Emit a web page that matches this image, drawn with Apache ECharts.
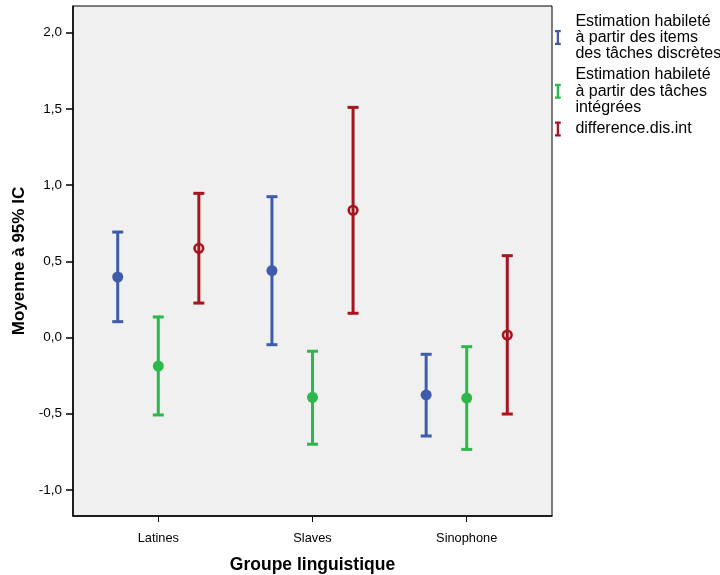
<!DOCTYPE html>
<html>
<head>
<meta charset="utf-8">
<script src="https://cdn.jsdelivr.net/npm/echarts@6/dist/echarts.min.js"></script>
<style>
  html, body { margin: 0; padding: 0; background: #fff; }
  #chart { width: 720px; height: 575px; }
</style>
</head>
<body>
<div id="chart"></div>
<script>
// Language groups on the x axis
const groups = ['Latines', 'Slaves', 'Sinophone'];

// Mean and 95% CI bounds per group
const discreteMean  = [0.397, 0.439, -0.377];
const discreteLow   = [0.104, -0.047, -0.646];
const discreteHigh  = [0.692, 0.924, -0.110];

const integratedMean = [-0.187, -0.392, -0.397];
const integratedLow  = [-0.508, -0.700, -0.734];
const integratedHigh = [0.135, -0.090, -0.060];

const diffMean = [0.585, 0.835, 0.016];
const diffLow  = [0.226, 0.159, -0.502];
const diffHigh = [0.946, 1.510, 0.537];

const yTicks = [-1, -0.5, 0, 0.5, 1, 1.5, 2];

const seriesDefs = [
  { name: 'Estimation habileté\nà partir des items\ndes tâches discrètes', color: '#3F5BAA', offset: -0.263, hollow: false,
    mean: discreteMean, low: discreteLow, high: discreteHigh },
  { name: 'Estimation habileté\nà partir des tâches\nintégrées', color: '#2DB84B', offset: 0, hollow: false,
    mean: integratedMean, low: integratedLow, high: integratedHigh },
  { name: 'difference.dis.int', color: '#A6141E', offset: 0.263, hollow: true,
    mean: diffMean, low: diffLow, high: diffHigh }
];

function makeRenderer(def) {
  return function (params, api) {
    const x = api.value(0) + def.offset;
    const pm = api.coord([x, api.value(1)]);
    const pl = api.coord([x, api.value(2)]);
    const ph = api.coord([x, api.value(3)]);
    const c = def.color;
    const capHalf = 5.5;
    const children = [
      { type: 'line', shape: { x1: pm[0], y1: ph[1], x2: pm[0], y2: pl[1] },
        style: { stroke: c, lineWidth: 3 } },
      { type: 'line', shape: { x1: pm[0] - capHalf, y1: ph[1], x2: pm[0] + capHalf, y2: ph[1] },
        style: { stroke: c, lineWidth: 3 } },
      { type: 'line', shape: { x1: pm[0] - capHalf, y1: pl[1], x2: pm[0] + capHalf, y2: pl[1] },
        style: { stroke: c, lineWidth: 3 } }
    ];
    if (def.hollow) {
      children.push({ type: 'circle', shape: { cx: pm[0], cy: pm[1], r: 4.3 },
        style: { fill: 'none', stroke: c, lineWidth: 2.6 } });
    } else {
      children.push({ type: 'circle', shape: { cx: pm[0], cy: pm[1], r: 5.5 },
        style: { fill: c } });
    }
    return { type: 'group', children: children };
  };
}

const chart = echarts.init(document.getElementById('chart'), null, { renderer: 'canvas' });

const fmt = v => (Math.round(v * 10) / 10).toFixed(1).replace('.', ',');

chart.setOption({
  animation: false,
  backgroundColor: '#ffffff',
  textStyle: { fontFamily: 'Liberation Sans, Arial, sans-serif' },
  grid: {
    left: 73, right: 168, top: 6, bottom: 59,
    outerBoundsMode: 'none',
    containLabel: false,
    show: true, backgroundColor: '#F0F0F0', borderColor: '#000', borderWidth: 1
  },
  legend: {
    orient: 'vertical',
    left: 550, top: 8,
    itemGap: 5,
    itemWidth: 25, itemHeight: 15,
    icon: 'path://M0,0H5V2H3.5V11H5V13H0V11H1.5V2H0Z',
    textStyle: { fontSize: 16, lineHeight: 16.3, color: '#000', fontFamily: 'Liberation Sans, Arial, sans-serif' },
    data: seriesDefs.map(d => d.name)
  },
  xAxis: {
    type: 'value',
    min: 0.447, max: 3.553,
    splitLine: { show: false },
    axisLine: { show: true, onZero: false, lineStyle: { color: '#000', width: 1.5 } },
    axisTick: { show: true, customValues: [1, 2, 3], length: 6, lineStyle: { color: '#000', width: 1 } },
    axisLabel: { customValues: [1, 2, 3], formatter: v => groups[Math.round(v) - 1],
      fontSize: 12.8, color: '#000', margin: 16 },
    name: 'Groupe linguistique',
    nameLocation: 'middle',
    nameGap: 40,
    nameTextStyle: { fontSize: 17.5, fontWeight: 'bold', color: '#000' }
  },
  yAxis: {
    type: 'value',
    min: -1.171, max: 2.175,
    splitLine: { show: false },
    axisLine: { show: true, onZero: false, lineStyle: { color: '#000', width: 1.5 } },
    axisTick: { show: true, customValues: yTicks, length: 7, lineStyle: { color: '#000', width: 1.5 } },
    axisLabel: { customValues: yTicks, formatter: fmt, fontSize: 13.5, color: '#000', margin: 11 },
    name: 'Moyenne à 95% IC',
    nameLocation: 'middle',
    nameGap: 39,
    nameTextStyle: { fontSize: 17, fontWeight: 'bold', color: '#000' }
  },
  series: seriesDefs.map(def => ({
    type: 'custom',
    name: def.name,
    itemStyle: { color: def.color },
    renderItem: makeRenderer(def),
    encode: { x: 0, y: [1, 2, 3] },
    data: groups.map((g, i) => [i + 1, def.mean[i], def.low[i], def.high[i]]),
    clip: false
  }))
});
</script>
</body>
</html>
